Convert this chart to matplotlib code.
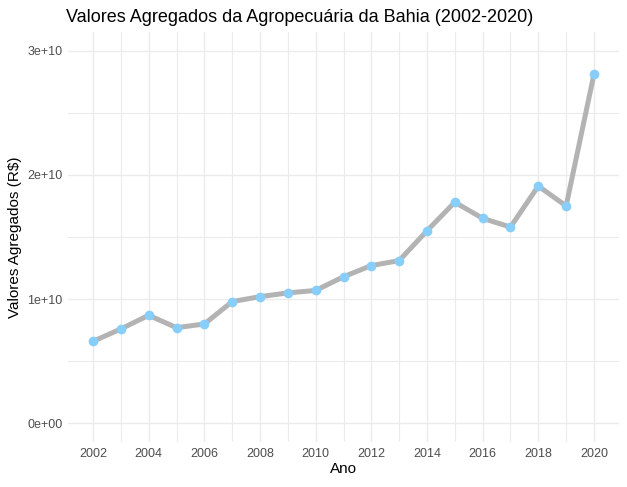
import numpy as np
import matplotlib
matplotlib.use("Agg")
from matplotlib import pyplot as plt
from matplotlib.ticker import FixedLocator, FuncFormatter

plt.rcParams['font.family'] = ['Liberation Sans', 'DejaVu Sans']

## Data (R$)
anos = [2002, 2003, 2004, 2005, 2006, 2007, 2008, 2009, 2010, 2011,
        2012, 2013, 2014, 2015, 2016, 2017, 2018, 2019, 2020]
valores = [6.6e9, 7.6e9, 8.7e9, 7.7e9, 8.0e9, 9.8e9, 10.2e9, 10.5e9, 10.7e9, 11.8e9,
           12.7e9, 13.1e9, 15.5e9, 17.8e9, 16.5e9, 15.8e9, 19.1e9, 17.5e9, 28.1e9]
x_ticks = list(range(2002, 2021, 2))
y_ticks = [0, 1e10, 2e10, 3e10]

fig = plt.figure(figsize=(6.27, 4.87), dpi=100)
ax = fig.add_axes([68/627, 1 - 442/487, (619 - 68)/627, (442 - 32)/487])

ax.plot(anos, valores, color="#B3B3B3", lw=3.6, solid_joinstyle="round", zorder=2)
ax.plot(anos, valores, "o", color="#87CEFA", ms=7, mec="none", zorder=3)

## ggplot-ish expansion
ax.set_xlim(2002 - 0.9, 2020 + 0.9)
ax.set_ylim(-0.15e10, 3.15e10)

ax.xaxis.set_major_locator(FixedLocator(x_ticks))
ax.xaxis.set_minor_locator(FixedLocator(list(range(2003, 2020, 2))))
ax.yaxis.set_major_locator(FixedLocator(y_ticks))
ax.yaxis.set_minor_locator(FixedLocator([0.5e10, 1.5e10, 2.5e10]))
ax.yaxis.set_major_formatter(FuncFormatter(lambda v, p: "0e+00" if v == 0 else "%de+10" % round(v / 1e10)))

ax.grid(which="major", color="#EBEBEB", lw=1.0)
ax.grid(which="minor", color="#EBEBEB", lw=0.8)
ax.set_axisbelow(True)
for s in ax.spines.values():
    s.set_visible(False)
ax.tick_params(which="both", length=0, labelsize=9, labelcolor="#4D4D4D", pad=4)

ax.set_xlabel("Ano", fontsize=11, labelpad=2)
ax.set_ylabel(r"Valores Agregados (R\$)", fontsize=11, labelpad=4)
ax.set_title("Valores Agregados da Agropecuária da Bahia (2002-2020)", fontsize=13,
             loc="left", x=-0.003, pad=7)

fig.savefig("out.png", dpi=100)
